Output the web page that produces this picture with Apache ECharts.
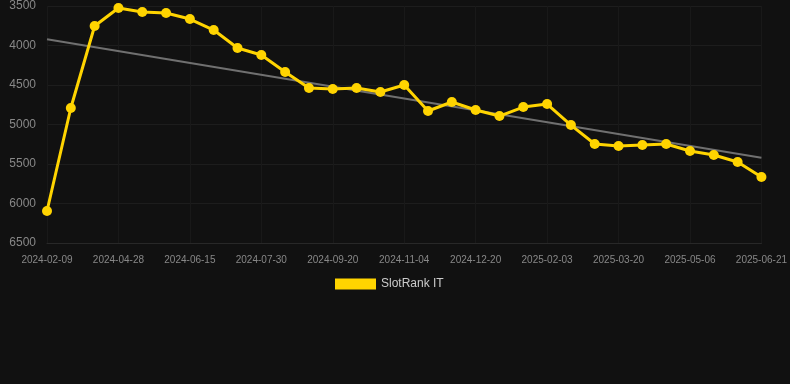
<!DOCTYPE html>
<html><head><meta charset="utf-8">
<script src="https://cdn.jsdelivr.net/npm/echarts@6/dist/echarts.min.js"></script>
<style>html,body{margin:0;padding:0;background:#111111;}#c{width:790px;height:384px;}</style>
</head><body><div id="c"></div>
<script>
const categories = ["2024-02-09","2024-03-06","2024-04-02","2024-04-28","2024-05-14","2024-05-30","2024-06-15","2024-06-30","2024-07-15","2024-07-30","2024-08-17","2024-09-03","2024-09-20","2024-10-05","2024-10-20","2024-11-04","2024-11-19","2024-12-05","2024-12-20","2025-01-04","2025-01-19","2025-02-03","2025-02-18","2025-03-05","2025-03-20","2025-04-04","2025-04-20","2025-05-06","2025-05-21","2025-06-06","2025-06-21"];
const slotRankIT = [6095,4791,3753,3525,3576,3589,3665,3804,4032,4120,4336,4538,4551,4538,4589,4500,4829,4715,4817,4893,4779,4741,5007,5247,5272,5260,5247,5336,5386,5475,5665];
const trendStart = 3921;
const trendEnd = 5421;
const yTicks = [3500,4000,4500,5000,5500,6000,6500];

const chart = echarts.init(document.getElementById('c'));
chart.setOption({
  backgroundColor: '#111111',
  animation: false,
  grid: {left: 47, right: 28, top: 6, bottom: 141},
  legend: {
    top: 273, left: 330,
    itemWidth: 41, itemHeight: 11, itemGap: 10,
    textStyle: {color: '#cccccc', fontSize: 12, fontFamily: 'Arial, Liberation Sans, sans-serif'},
    data: [{name: 'SlotRank IT', icon: 'rect'}]
  },
  xAxis: {
    type: 'category', data: categories, boundaryGap: false,
    axisLine: {show: true, lineStyle: {color: '#282828', width: 1}}, axisTick: {show: false},
    axisLabel: {interval: 2, color: '#888888', fontSize: 10, margin: 12, fontFamily: 'Arial, Liberation Sans, sans-serif'},
    splitLine: {show: true, interval: 2, lineStyle: {color: '#191919', width: 1}}
  },
  yAxis: {
    type: 'value', inverse: true, min: yTicks[0], max: yTicks[yTicks.length-1], interval: 500,
    axisLine: {show: false}, axisTick: {show: false},
    axisLabel: {color: '#888888', fontSize: 12, margin: 11, fontFamily: 'Arial, Liberation Sans, sans-serif', formatter: v => String(v)},
    splitLine: {lineStyle: {color: '#1d1d1d', width: 1}}
  },
  series: [{
    name: 'SlotRank IT', type: 'line', data: slotRankIT,
    color: '#FFD400',
    lineStyle: {width: 3, color: '#FFD400'},
    symbol: 'circle', symbolSize: 10,
    itemStyle: {color: '#FFD400'},
    z: 3,
    markLine: {
      silent: true, symbol: ['none','none'], label: {show: false},
      lineStyle: {color: '#707070', width: 2, type: 'solid'},
      z: 2,
      data: [[{coord: [categories[0], trendStart]}, {coord: [categories[categories.length-1], trendEnd]}]]
    }
  }]
});
</script></body></html>
